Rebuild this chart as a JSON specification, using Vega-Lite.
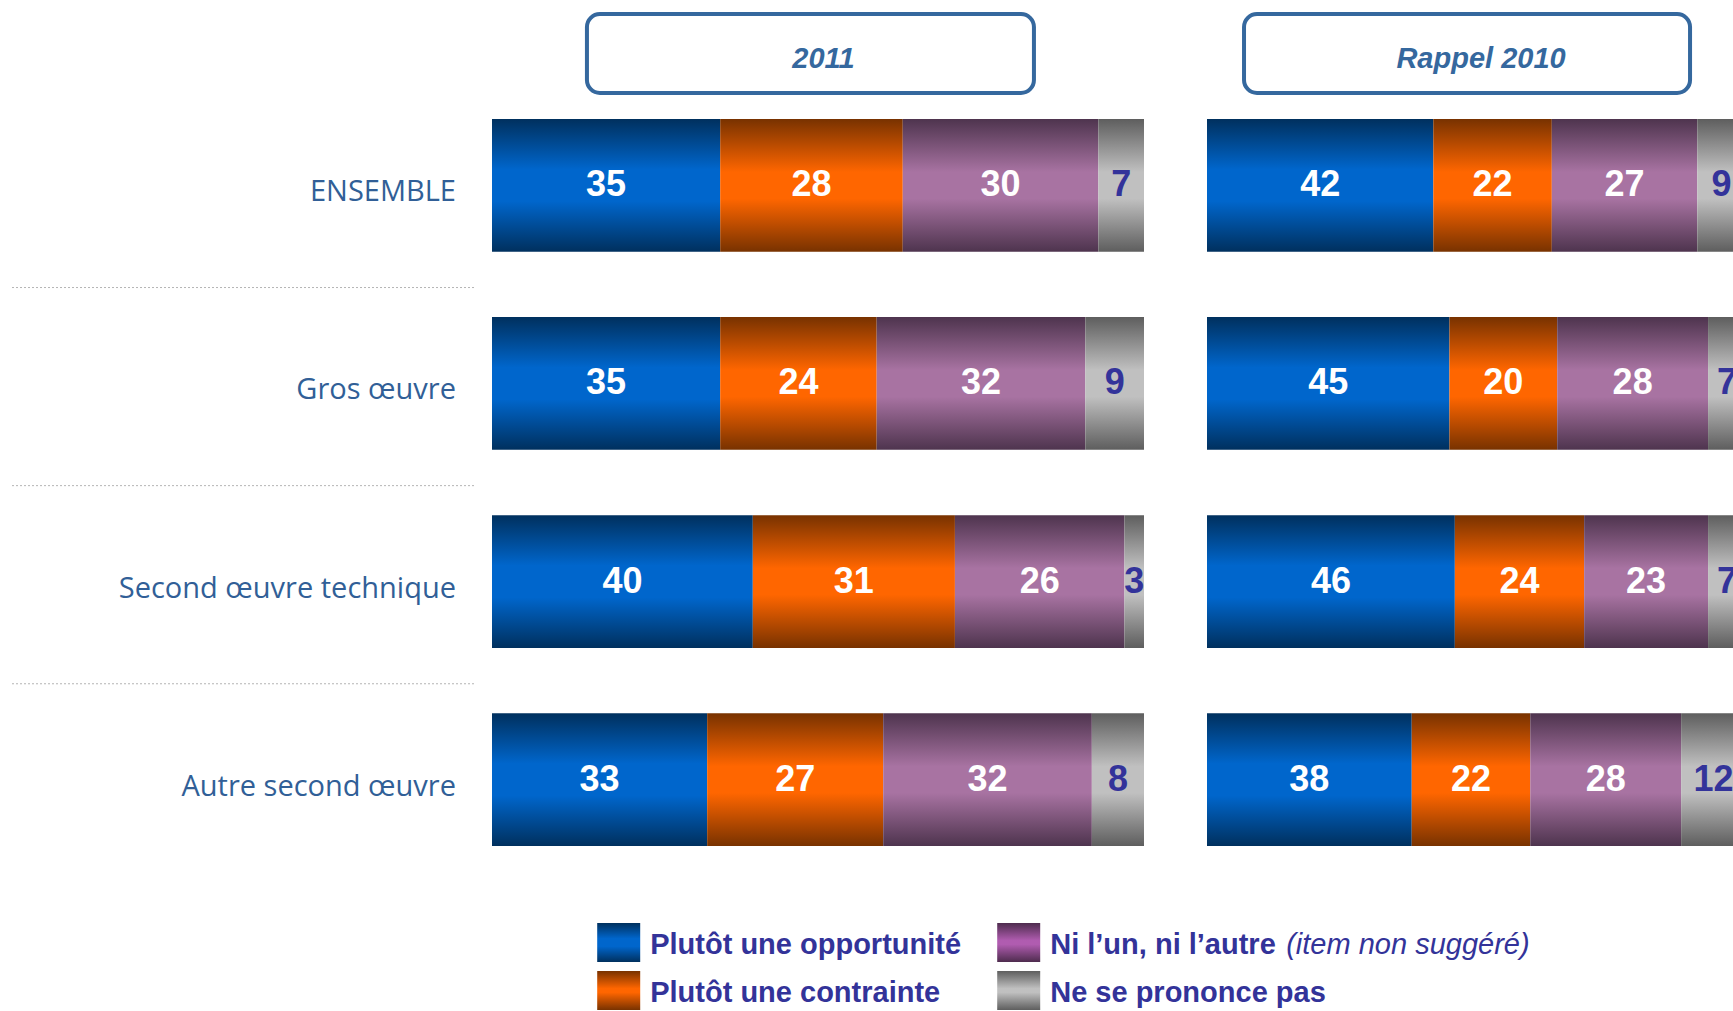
{
  "$schema": "https://vega.github.io/schema/vega-lite/v6.json",
  "padding": {"left": 9, "top": 12, "right": 0, "bottom": 0},
  "background": "white",
  "config": {"view": {"stroke": null}},
  "datasets": {
    "survey": [
      {"period": "2011", "row": "ENSEMBLE", "cat": "Plutôt une opportunité", "value": 35},
      {"period": "2011", "row": "ENSEMBLE", "cat": "Plutôt une contrainte", "value": 28},
      {"period": "2011", "row": "ENSEMBLE", "cat": "Ni l’un, ni l’autre", "value": 30},
      {"period": "2011", "row": "ENSEMBLE", "cat": "Ne se prononce pas", "value": 7},
      {"period": "2011", "row": "Gros œuvre", "cat": "Plutôt une opportunité", "value": 35},
      {"period": "2011", "row": "Gros œuvre", "cat": "Plutôt une contrainte", "value": 24},
      {"period": "2011", "row": "Gros œuvre", "cat": "Ni l’un, ni l’autre", "value": 32},
      {"period": "2011", "row": "Gros œuvre", "cat": "Ne se prononce pas", "value": 9},
      {"period": "2011", "row": "Second œuvre technique", "cat": "Plutôt une opportunité", "value": 40},
      {"period": "2011", "row": "Second œuvre technique", "cat": "Plutôt une contrainte", "value": 31},
      {"period": "2011", "row": "Second œuvre technique", "cat": "Ni l’un, ni l’autre", "value": 26},
      {"period": "2011", "row": "Second œuvre technique", "cat": "Ne se prononce pas", "value": 3},
      {"period": "2011", "row": "Autre second œuvre", "cat": "Plutôt une opportunité", "value": 33},
      {"period": "2011", "row": "Autre second œuvre", "cat": "Plutôt une contrainte", "value": 27},
      {"period": "2011", "row": "Autre second œuvre", "cat": "Ni l’un, ni l’autre", "value": 32},
      {"period": "2011", "row": "Autre second œuvre", "cat": "Ne se prononce pas", "value": 8},
      {"period": "Rappel 2010", "row": "ENSEMBLE", "cat": "Plutôt une opportunité", "value": 42},
      {"period": "Rappel 2010", "row": "ENSEMBLE", "cat": "Plutôt une contrainte", "value": 22},
      {"period": "Rappel 2010", "row": "ENSEMBLE", "cat": "Ni l’un, ni l’autre", "value": 27},
      {"period": "Rappel 2010", "row": "ENSEMBLE", "cat": "Ne se prononce pas", "value": 9},
      {"period": "Rappel 2010", "row": "Gros œuvre", "cat": "Plutôt une opportunité", "value": 45},
      {"period": "Rappel 2010", "row": "Gros œuvre", "cat": "Plutôt une contrainte", "value": 20},
      {"period": "Rappel 2010", "row": "Gros œuvre", "cat": "Ni l’un, ni l’autre", "value": 28},
      {"period": "Rappel 2010", "row": "Gros œuvre", "cat": "Ne se prononce pas", "value": 7},
      {"period": "Rappel 2010", "row": "Second œuvre technique", "cat": "Plutôt une opportunité", "value": 46},
      {"period": "Rappel 2010", "row": "Second œuvre technique", "cat": "Plutôt une contrainte", "value": 24},
      {"period": "Rappel 2010", "row": "Second œuvre technique", "cat": "Ni l’un, ni l’autre", "value": 23},
      {"period": "Rappel 2010", "row": "Second œuvre technique", "cat": "Ne se prononce pas", "value": 7},
      {"period": "Rappel 2010", "row": "Autre second œuvre", "cat": "Plutôt une opportunité", "value": 38},
      {"period": "Rappel 2010", "row": "Autre second œuvre", "cat": "Plutôt une contrainte", "value": 22},
      {"period": "Rappel 2010", "row": "Autre second œuvre", "cat": "Ni l’un, ni l’autre", "value": 28},
      {"period": "Rappel 2010", "row": "Autre second œuvre", "cat": "Ne se prononce pas", "value": 12}
    ],
    "rows": [
      {"row": "ENSEMBLE"},
      {"row": "Gros œuvre"},
      {"row": "Second œuvre technique"},
      {"row": "Autre second œuvre"}
    ],
    "periods": [
      {"period": "2011"},
      {"period": "Rappel 2010"}
    ],
    "legend": [
      {"cat": "Plutôt une opportunité", "note": ""},
      {"cat": "Plutôt une contrainte", "note": ""},
      {"cat": "Ni l’un, ni l’autre", "note": "(item non suggéré)"},
      {"cat": "Ne se prononce pas", "note": ""}
    ]
  },
  "spacing": 0,
  "vconcat": [
    {
      "spacing": 17,
      "hconcat": [
        {
          "width": 464,
          "height": 79,
          "data": {"values": [{"t": ""}]},
          "mark": {"type": "text"},
          "encoding": {"text": {"field": "t"}}
        },
        {
          "spacing": 62,
          "hconcat": [
            {
              "width": 652,
              "height": 79,
              "data": {"name": "periods"},
              "transform": [{"filter": "datum.period === '2011'"}],
              "encoding": {
                "x": {"field": "period", "type": "nominal", "axis": null, "scale": {"type": "band", "paddingInner": 0, "paddingOuter": 0.2293, "align": 0.468}},
                "y": {"field": "period", "type": "nominal", "axis": null, "scale": {"type": "band", "paddingInner": 0, "paddingOuter": 0}}
              },
              "layer": [
                {"mark": {"type": "rect", "fill": "white", "stroke": "#35689e", "strokeWidth": 4, "cornerRadius": 13}},
                {"mark": {"type": "text", "font": "Liberation Sans", "fontSize": 29, "fontWeight": "bold", "fontStyle": "italic", "fill": "#35689e", "dy": 5, "dx": 13}, "encoding": {"text": {"field": "period"}}}
              ]
            },
            {
              "width": 528,
              "height": 79,
              "data": {"name": "periods"},
              "transform": [{"filter": "datum.period === 'Rappel 2010'"}],
              "encoding": {
                "x": {"field": "period", "type": "nominal", "axis": null, "scale": {"type": "band", "paddingInner": 0, "paddingOuter": 0.0919, "align": 0.476}},
                "y": {"field": "period", "type": "nominal", "axis": null, "scale": {"type": "band", "paddingInner": 0, "paddingOuter": 0}}
              },
              "layer": [
                {"mark": {"type": "rect", "fill": "white", "stroke": "#35689e", "strokeWidth": 4, "cornerRadius": 13}},
                {"mark": {"type": "text", "font": "Liberation Sans", "fontSize": 29, "fontWeight": "bold", "fontStyle": "italic", "fill": "#35689e", "dy": 5, "dx": 14}, "encoding": {"text": {"field": "period"}}}
              ]
            }
          ]
        }
      ]
    },
    {
      "spacing": 17,
      "hconcat": [
        {
          "width": 464,
          "height": 775,
          "data": {"name": "rows"},
          "layer": [
            {
              "transform": [{"filter": "datum.row !== 'Autre second œuvre'"}],
              "mark": {"type": "rule", "color": "#b4b4b4", "strokeWidth": 1, "strokeDash": [2, 2]},
              "encoding": {
                "y": {"field": "row", "type": "nominal", "bandPosition": 1.27, "axis": null, "scale": {"type": "band", "domain": ["ENSEMBLE", "Gros œuvre", "Second œuvre technique", "Autre second œuvre"], "paddingInner": 0.33, "paddingOuter": 0.121}}
              }
            },
            {
              "mark": {"type": "text", "align": "right", "baseline": "middle", "font": "Open Sans", "fontSize": 29, "fill": "#315f97", "dx": -18, "dy": 7},
              "encoding": {
                "x": {"value": "width"},
                "y": {"field": "row", "type": "nominal", "axis": null, "scale": {"type": "band", "domain": ["ENSEMBLE", "Gros œuvre", "Second œuvre technique", "Autre second œuvre"], "paddingInner": 0.33, "paddingOuter": 0.121}},
                "text": {"field": "row"}
              }
            }
          ]
        },
        {
          "spacing": 62,
          "hconcat": [
            {
              "width": 652,
              "height": 775,
              "data": {"name": "survey"},
              "transform": [
                {"filter": "datum.period === '2011'"},
                {"stack": "value", "groupby": ["row"], "sort": [{"field": "cat", "order": "descending"}], "as": ["x0", "x1"]},
                {"calculate": "(datum.x0 + datum.x1) / 2", "as": "xm"}
              ],
              "encoding": {
                "y": {"field": "row", "type": "nominal", "axis": null, "scale": {"type": "band", "domain": ["ENSEMBLE", "Gros œuvre", "Second œuvre technique", "Autre second œuvre"], "paddingInner": 0.33, "paddingOuter": 0.121}}
              },
              "layer": [
                {
                  "mark": {"type": "bar"},
                  "encoding": {
                    "x": {"field": "x0", "type": "quantitative", "axis": null, "scale": {"domain": [0, 100], "nice": false, "zero": false}},
                    "x2": {"field": "x1"},
                    "fill": {
                      "condition": [
                        {"test": "datum.cat === 'Plutôt une opportunité'", "value": {"gradient": "linear", "x1": 0, "y1": 0, "x2": 0, "y2": 1, "stops": [{"offset": 0, "color": "#00305e"}, {"offset": 0.38, "color": "#0066cc"}, {"offset": 0.62, "color": "#0066cc"}, {"offset": 1, "color": "#00305e"}]}},
                        {"test": "datum.cat === 'Plutôt une contrainte'", "value": {"gradient": "linear", "x1": 0, "y1": 0, "x2": 0, "y2": 1, "stops": [{"offset": 0, "color": "#783200"}, {"offset": 0.4, "color": "#ff6600"}, {"offset": 0.6, "color": "#ff6600"}, {"offset": 1, "color": "#783200"}]}},
                        {"test": "datum.cat === 'Ni l’un, ni l’autre'", "value": {"gradient": "linear", "x1": 0, "y1": 0, "x2": 0, "y2": 1, "stops": [{"offset": 0, "color": "#4e344e"}, {"offset": 0.4, "color": "#a873a2"}, {"offset": 0.6, "color": "#a873a2"}, {"offset": 1, "color": "#4e344e"}]}}
                      ],
                      "value": {"gradient": "linear", "x1": 0, "y1": 0, "x2": 0, "y2": 1, "stops": [{"offset": 0, "color": "#5e5e5e"}, {"offset": 0.4, "color": "#c0c0c0"}, {"offset": 0.6, "color": "#c0c0c0"}, {"offset": 1, "color": "#5e5e5e"}]}
                    }
                  }
                },
                {
                  "mark": {"type": "text", "font": "Liberation Sans", "fontWeight": "bold", "fontSize": 36, "baseline": "middle"},
                  "encoding": {
                    "x": {"field": "xm", "type": "quantitative"},
                    "text": {"field": "value"},
                    "fill": {"condition": {"test": "datum.cat === 'Ne se prononce pas'", "value": "#33339a"}, "value": "white"}
                  }
                }
              ]
            },
            {
              "width": 528,
              "height": 775,
              "data": {"name": "survey"},
              "transform": [
                {"filter": "datum.period === 'Rappel 2010'"},
                {"stack": "value", "groupby": ["row"], "sort": [{"field": "cat", "order": "descending"}], "as": ["x0", "x1"]},
                {"calculate": "(datum.x0 + datum.x1) / 2", "as": "xm"}
              ],
              "encoding": {
                "y": {"field": "row", "type": "nominal", "axis": null, "scale": {"type": "band", "domain": ["ENSEMBLE", "Gros œuvre", "Second œuvre technique", "Autre second œuvre"], "paddingInner": 0.33, "paddingOuter": 0.121}}
              },
              "layer": [
                {
                  "mark": {"type": "bar", "clip": true},
                  "encoding": {
                    "x": {"field": "x0", "type": "quantitative", "axis": null, "scale": {"domain": [0, 98], "nice": false, "zero": false}},
                    "x2": {"field": "x1"},
                    "fill": {
                      "condition": [
                        {"test": "datum.cat === 'Plutôt une opportunité'", "value": {"gradient": "linear", "x1": 0, "y1": 0, "x2": 0, "y2": 1, "stops": [{"offset": 0, "color": "#00305e"}, {"offset": 0.38, "color": "#0066cc"}, {"offset": 0.62, "color": "#0066cc"}, {"offset": 1, "color": "#00305e"}]}},
                        {"test": "datum.cat === 'Plutôt une contrainte'", "value": {"gradient": "linear", "x1": 0, "y1": 0, "x2": 0, "y2": 1, "stops": [{"offset": 0, "color": "#783200"}, {"offset": 0.4, "color": "#ff6600"}, {"offset": 0.6, "color": "#ff6600"}, {"offset": 1, "color": "#783200"}]}},
                        {"test": "datum.cat === 'Ni l’un, ni l’autre'", "value": {"gradient": "linear", "x1": 0, "y1": 0, "x2": 0, "y2": 1, "stops": [{"offset": 0, "color": "#4e344e"}, {"offset": 0.4, "color": "#a873a2"}, {"offset": 0.6, "color": "#a873a2"}, {"offset": 1, "color": "#4e344e"}]}}
                      ],
                      "value": {"gradient": "linear", "x1": 0, "y1": 0, "x2": 0, "y2": 1, "stops": [{"offset": 0, "color": "#5e5e5e"}, {"offset": 0.4, "color": "#c0c0c0"}, {"offset": 0.6, "color": "#c0c0c0"}, {"offset": 1, "color": "#5e5e5e"}]}
                    }
                  }
                },
                {
                  "mark": {"type": "text", "font": "Liberation Sans", "fontWeight": "bold", "fontSize": 36, "baseline": "middle", "clip": true},
                  "encoding": {
                    "x": {"field": "xm", "type": "quantitative"},
                    "text": {"field": "value"},
                    "fill": {"condition": {"test": "datum.cat === 'Ne se prononce pas'", "value": "#33339a"}, "value": "white"}
                  }
                }
              ]
            }
          ]
        }
      ]
    },
    {
      "width": 1243,
      "height": 140,
      "data": {"name": "legend"},
      "transform": [
        {"calculate": "indexof(['Plutôt une opportunité', 'Plutôt une contrainte'], datum.cat) >= 0 ? 'a' : 'b'", "as": "col"},
        {"calculate": "indexof(['Plutôt une opportunité', 'Ni l’un, ni l’autre'], datum.cat) >= 0 ? 'a' : 'b'", "as": "line"}
      ],
      "encoding": {
        "x": {"field": "col", "type": "nominal", "axis": null, "scale": {"type": "band", "domain": ["a", "b"], "paddingInner": 0.8925, "paddingOuter": 1, "align": 0.734}},
        "y": {"field": "line", "type": "nominal", "axis": null, "scale": {"type": "band", "domain": ["a", "b"], "paddingInner": 0.1875, "paddingOuter": 0.552, "align": 1}}
      },
      "layer": [
        {
          "mark": {"type": "rect"},
          "encoding": {
            "fill": {
              "condition": [
                {"test": "datum.cat === 'Plutôt une opportunité'", "value": {"gradient": "linear", "x1": 0, "y1": 0, "x2": 0, "y2": 1, "stops": [{"offset": 0, "color": "#00305e"}, {"offset": 0.4, "color": "#0066cc"}, {"offset": 0.6, "color": "#0066cc"}, {"offset": 1, "color": "#00305e"}]}},
                {"test": "datum.cat === 'Plutôt une contrainte'", "value": {"gradient": "linear", "x1": 0, "y1": 0, "x2": 0, "y2": 1, "stops": [{"offset": 0, "color": "#783200"}, {"offset": 0.45, "color": "#ff6600"}, {"offset": 0.55, "color": "#ff6600"}, {"offset": 1, "color": "#783200"}]}},
                {"test": "datum.cat === 'Ni l’un, ni l’autre'", "value": {"gradient": "linear", "x1": 0, "y1": 0, "x2": 0, "y2": 1, "stops": [{"offset": 0, "color": "#4e2c4e"}, {"offset": 0.45, "color": "#b05cb0"}, {"offset": 0.55, "color": "#b05cb0"}, {"offset": 1, "color": "#4e2c4e"}]}}
              ],
              "value": {"gradient": "linear", "x1": 0, "y1": 0, "x2": 0, "y2": 1, "stops": [{"offset": 0, "color": "#5e5e5e"}, {"offset": 0.45, "color": "#c0c0c0"}, {"offset": 0.55, "color": "#c0c0c0"}, {"offset": 1, "color": "#5e5e5e"}]}
            }
          }
        },
        {
          "mark": {"type": "text", "align": "left", "baseline": "middle", "font": "Liberation Sans", "fontWeight": "bold", "fontSize": 29, "fill": "#333399", "dx": 10, "dy": 3},
          "encoding": {
            "x": {"field": "col", "type": "nominal", "bandPosition": 1},
            "text": {"field": "cat"}
          }
        },
        {
          "mark": {"type": "text", "align": "left", "baseline": "middle", "font": "Liberation Sans", "fontWeight": "normal", "fontStyle": "italic", "fontSize": 29, "fill": "#333399", "dx": 246, "dy": 3},
          "encoding": {
            "x": {"field": "col", "type": "nominal", "bandPosition": 1},
            "text": {"field": "note"}
          }
        }
      ]
    }
  ]
}
